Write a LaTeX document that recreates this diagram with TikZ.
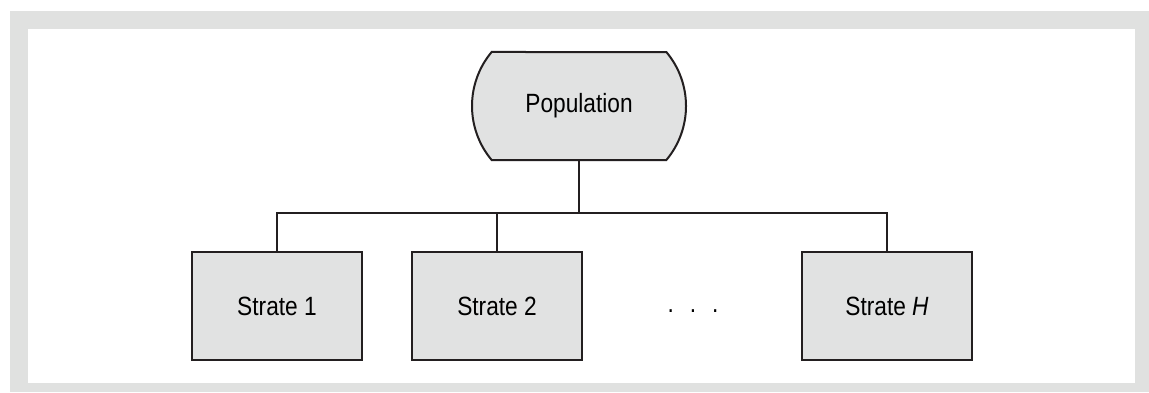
\documentclass[tikz,border=0pt]{standalone}
\usepackage{fontspec}
\setmainfont{Liberation Sans}[FakeStretch=0.86]
\usetikzlibrary{positioning}
\usetikzlibrary{shapes.misc}
\definecolor{framegray}{RGB}{224,225,224}
\definecolor{boxgray}{RGB}{225,226,226}
\definecolor{inkdark}{RGB}{35,31,32}
\tikzset{
  stratebox/.style={draw=inkdark, fill=boxgray, line width=1pt,
    minimum width=85pt, minimum height=54pt, inner sep=0pt, font=\fontsize{13.2}{15}\selectfont},
  popbox/.style={rounded rectangle, rounded rectangle arc length=80, draw=inkdark, fill=boxgray,
    line width=1pt, minimum width=107pt, minimum height=54pt, inner sep=0pt,
    font=\fontsize{13.2}{15}\selectfont},
  link/.style={draw=inkdark, line width=1pt}
}
\begin{document}
\begin{tikzpicture}[x=0.5pt, y=-0.5pt, line join=miter]
          \useasboundingbox (0,0) rectangle (1149,392);
          % grey frame and white panel
          \fill[framegray] (10,11) rectangle (1149,392);
          \fill[white] (28,29) rectangle (1135,383);
          % population at the top
          \node[popbox] (pop) at (579,106) {Population};
          % strata
          \node[stratebox] (s1) at (277,306) {Strate 1};
          \node[stratebox] (s2) at (497,306) {Strate 2};
          \node[stratebox] (sH) at (887,306) {Strate \textit{H}};
          \node[font=\fontsize{13.2}{15}\selectfont, anchor=base] (dots) at (693,312) {.\hspace{8pt}.\hspace{8pt}.};
          % connectors
          \coordinate (bus) at (579,213);
          \draw[link] (pop.south) -- (bus);
          \foreach \s in {s1, s2, sH}{
            \draw[link] (\s.north) |- (bus);
          }
        \end{tikzpicture}
\end{document}
